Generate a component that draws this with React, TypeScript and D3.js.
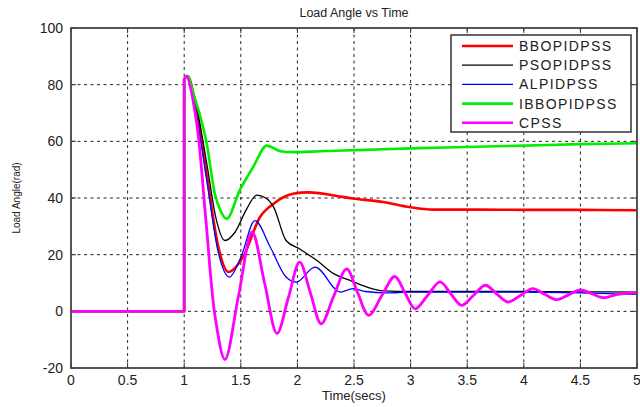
import React from "react";
import * as d3 from "d3";

const xTicks = [0, 0.5, 1, 1.5, 2, 2.5, 3, 3.5, 4, 4.5, 5];
const yTicks = [-20, 0, 20, 40, 60, 80, 100];

const stepT = [0, 1, 1];
const stepV = [0, 0, 82];

const bboT = [1, 1.03, 1.1, 1.2, 1.3, 1.39, 1.52, 1.67, 1.79, 1.96, 2.1, 2.31, 2.49, 2.76, 2.99, 3.2, 3.6, 4.0, 4.5, 5.0];
const bboV = [82, 83, 73, 48, 23, 13.9, 19.2, 33.3, 38, 41.5, 42, 41, 39.8, 38.6, 36.8, 35.9, 35.9, 35.8, 35.8, 35.7];

const psoT = [1, 1.03, 1.1, 1.2, 1.28, 1.36, 1.45, 1.55, 1.64, 1.72, 1.79, 1.9, 2.02, 2.17, 2.32, 2.46, 2.61, 2.76, 3.0, 3.5, 4.0, 4.5, 5.0];
const psoV = [82, 83, 74, 52, 33, 25, 28, 36, 41, 40, 36.8, 25, 22, 18, 13.3, 11, 8.6, 7.2, 7, 7, 7, 6.9, 6.8];

const alpT = [1, 1.03, 1.1, 1.2, 1.3, 1.4, 1.5, 1.625, 1.76, 1.9, 1.99, 2.155, 2.38, 2.49, 2.6, 2.79, 3.0, 3.5, 4.0, 4.5, 5.0];
const alpV = [82, 83, 71, 46, 21, 12.1, 19, 32, 22.7, 12.1, 10.3, 15.6, 6.8, 8, 7, 6.5, 6.8, 6.8, 6.8, 6.5, 6];

const ibboT = [1, 1.03, 1.08, 1.2, 1.27, 1.32, 1.375, 1.49, 1.61, 1.73, 1.85, 1.96, 2.2, 2.6, 3.0, 3.5, 4.0, 4.5, 5.0];
const ibboV = [82, 83, 77, 59, 41.6, 35.6, 32.7, 42.7, 51, 58.5, 56.5, 56.2, 56.5, 57, 57.5, 58, 58.5, 59, 59.3];

const cpssT = [1, 1.02, 1.105, 1.19, 1.275, 1.36, 1.48, 1.6, 1.71, 1.82, 1.92, 2.02, 2.115, 2.21, 2.32, 2.435, 2.53, 2.63, 2.745, 2.86, 2.95, 3.04, 3.15, 3.26, 3.355, 3.45, 3.555, 3.66, 3.76, 3.86, 3.97, 4.08, 4.185, 4.29, 4.395, 4.5, 4.6, 4.7, 4.83, 4.96, 5.0];
const cpssV = [82, 83, 68, 33, -2.4, -17, 5.5, 28, 10, -7.8, 4.8, 17.4, 6.5, -4.4, 5.3, 15, 6.8, -1.4, 5.5, 12.3, 6.6, 0.9, 5.6, 10.4, 6.2, 2.1, 5.6, 9.2, 6.2, 3.3, 5.6, 8, 6, 4.1, 5.8, 7.6, 6.2, 4.8, 6, 6.5, 6.4];

const seriesNames = ["BBOPIDPSS", "PSOPIDPSS", "ALPIDPSS", "IBBOPIDPSS", "CPSS"];
const seriesColors = ["#ff0000", "#000000", "#0000ff", "#00ee00", "#ff00ff"];
const seriesWidths = [2.6, 1.3, 1.3, 2.6, 2.8];
const seriesT = [bboT, psoT, alpT, ibboT, cpssT];
const seriesV = [bboV, psoV, alpV, ibboV, cpssV];

const W = 640, H = 407;
const L = 71, R = 637, T = 28, B = 368;

export default function App() {
  const x = d3.scaleLinear().domain([0, 5]).range([L, R]);
  const y = d3.scaleLinear().domain([-20, 100]).range([B, T]);
  const font = "'Liberation Sans', Arial, sans-serif";

  const stepLine = d3.line<number>().x((_, i) => x(stepT[i])).y((v) => y(v));
  const smooth = (ts: number[], curve: any) =>
    d3.line<number>().x((_, i) => x(ts[i])).y((v) => y(v)).curve(curve);

  return (
    <svg width={W} height={H} style={{ position: "absolute", left: 0, top: 0, background: "#fff" }}>
      <rect x={0} y={0} width={W} height={H} fill="#fff" />
      {/* grid */}
      {xTicks.slice(1, -1).map((t) => (
        <line key={"gx" + t} x1={x(t)} x2={x(t)} y1={T} y2={B} stroke="#222" strokeWidth={1} strokeDasharray="3,3.5" />
      ))}
      {yTicks.slice(1, -1).map((t) => (
        <line key={"gy" + t} x1={L} x2={R} y1={y(t)} y2={y(t)} stroke="#222" strokeWidth={1} strokeDasharray="3,3.5" />
      ))}
      {/* ticks */}
      {xTicks.map((t) => (
        <g key={"tx" + t}>
          <line x1={x(t)} x2={x(t)} y1={B} y2={B - 5} stroke="#333" />
          <line x1={x(t)} x2={x(t)} y1={T} y2={T + 5} stroke="#333" />
          <text x={x(t)} y={B + 17} textAnchor="middle" fontFamily={font} fontSize={14} fill="#222">{t}</text>
        </g>
      ))}
      {yTicks.map((t) => (
        <g key={"ty" + t}>
          <line x1={L} x2={L + 5} y1={y(t)} y2={y(t)} stroke="#333" />
          <line x1={R} x2={R - 5} y1={y(t)} y2={y(t)} stroke="#333" />
          <text x={L - 8} y={y(t) + 5} textAnchor="end" fontFamily={font} fontSize={14} fill="#222">{t}</text>
        </g>
      ))}
      {/* series */}
      {seriesNames.map((n, i) => (
        <g key={n} fill="none" stroke={seriesColors[i]} strokeWidth={seriesWidths[i]} strokeLinejoin="round">
          <path d={stepLine(stepV) || ""} />
          <path d={smooth(seriesT[i], i === 4 ? d3.curveCatmullRom : d3.curveMonotoneX)(seriesV[i]) || ""} />
        </g>
      ))}
      {/* frame */}
      <rect x={L} y={T} width={R - L} height={B - T} fill="none" stroke="#444" strokeWidth={1.8} />
      {/* legend */}
      <rect x={451} y={35} width={180} height={97} fill="#fff" stroke="#333" strokeWidth={1.5} />
      {seriesNames.map((n, i) => (
        <g key={"lg" + n}>
          <line x1={462} x2={513} y1={46 + i * 19.2} y2={46 + i * 19.2} stroke={seriesColors[i]} strokeWidth={seriesWidths[i] === 1.3 ? 1.3 : 2.6} />
          <text x={519} y={46 + i * 19.2 + 5} fontFamily={font} fontSize={14} letterSpacing={1.4} fill="#222">{n}</text>
        </g>
      ))}
      {/* title & labels */}
      <text x={(L + R) / 2} y={17} textAnchor="middle" fontFamily={font} fontSize={12.5} fill="#222">Load Angle vs Time</text>
      <text x={(L + R) / 2} y={400} textAnchor="middle" fontFamily={font} fontSize={13} fill="#222">Time(secs)</text>
      <text transform={`translate(20, ${(T + B) / 2}) rotate(-90)`} textAnchor="middle" fontFamily={font} fontSize={10} fill="#222">Load Angle(rad)</text>
    </svg>
  );
}
